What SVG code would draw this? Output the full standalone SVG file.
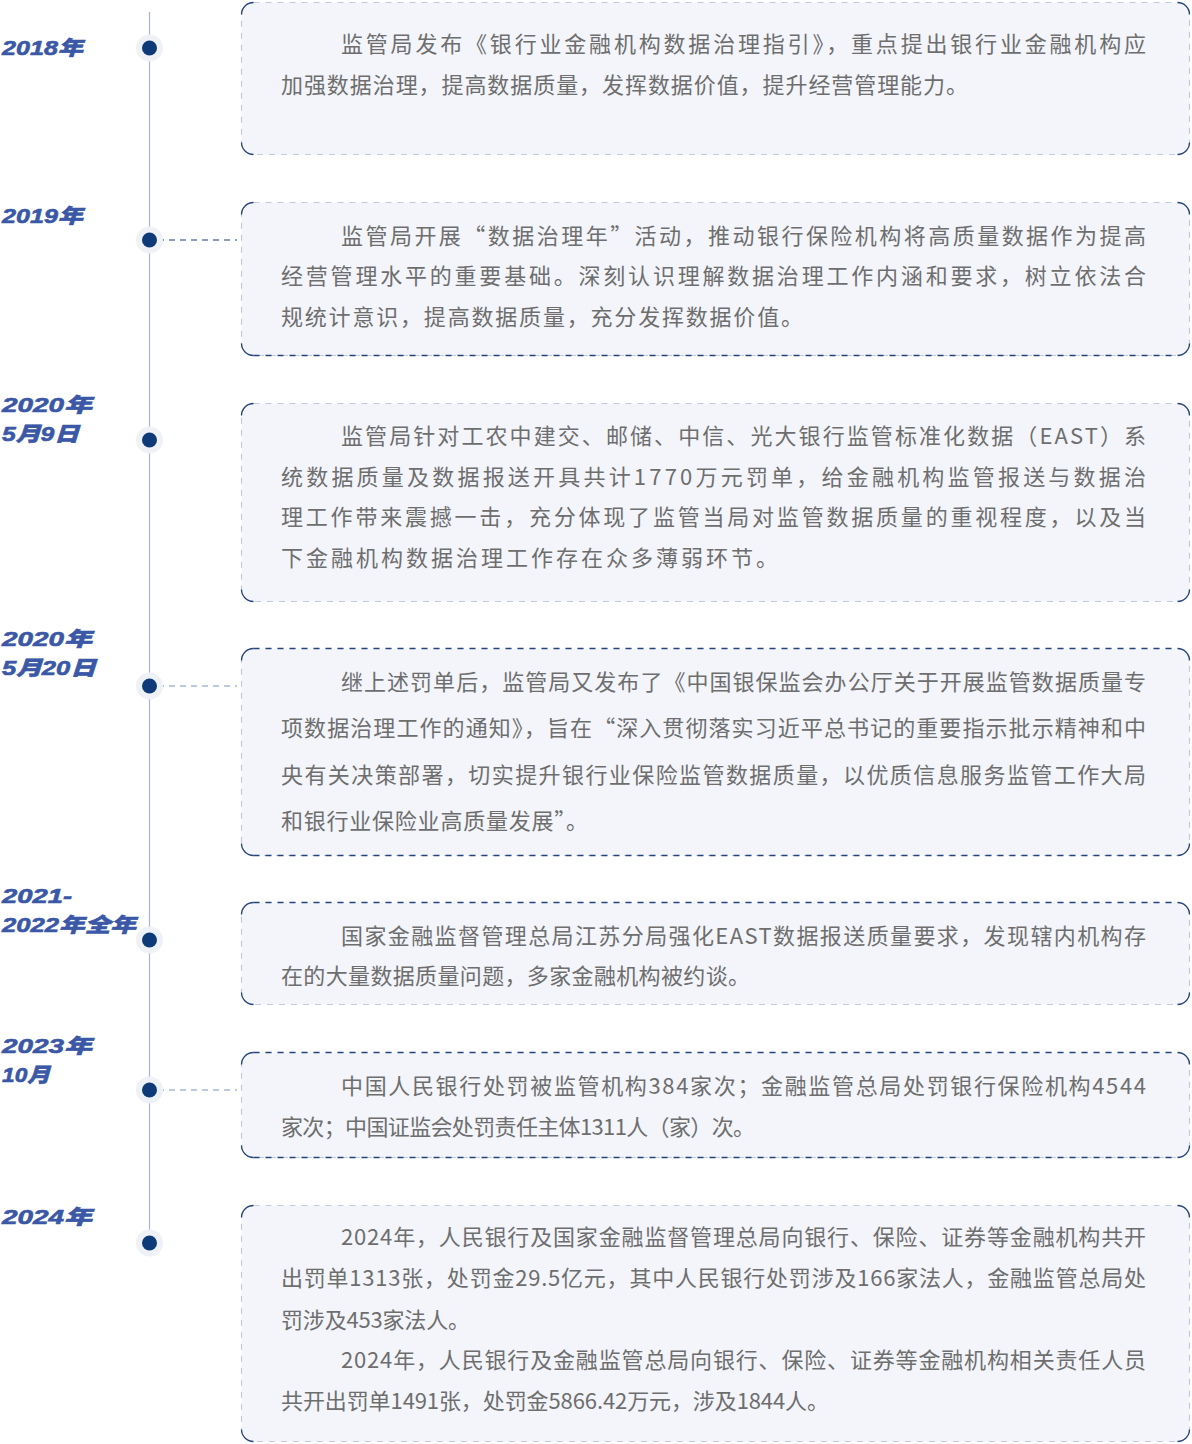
<svg xmlns="http://www.w3.org/2000/svg" width="1192" height="1444" viewBox="0 0 1192 1444">
<style>
.card{fill:#f3f5fb;stroke:#c2c9da;stroke-width:1.2;stroke-dasharray:6 6}
.dk{stroke:#25457a;stroke-width:1.3;stroke-dasharray:6 6;fill:none}
.cn{stroke:#25457a;stroke-width:1.3;fill:none}
.t{font-family:"Noto Sans CJK SC","Noto Sans",sans-serif;font-size:22px;fill:#6e6e6e}
.d{font-family:"Liberation Sans","Noto Sans CJK SC",sans-serif;font-size:20px;font-weight:900;font-style:italic;fill:#3a58a6;stroke:#3a58a6;stroke-width:0.6}
.halo{fill:#eef1f6}
.dot{fill:#0f3a78}
</style>
<rect width="1192" height="1444" fill="#ffffff"/>
<g id="connectors">
<line x1="149.5" y1="12" x2="149.5" y2="1243" stroke="#a7b3cc" stroke-width="1.2"/>
<line x1="158" y1="240" x2="237" y2="240" stroke="#1e3f75" stroke-width="1.2" stroke-dasharray="6 5"/>
<line x1="158" y1="686" x2="237" y2="686" stroke="#7b96bb" stroke-width="1.2" stroke-dasharray="6 5"/>
<line x1="158" y1="1090" x2="237" y2="1090" stroke="#7b96bb" stroke-width="1.2" stroke-dasharray="6 5"/>
</g>
<g id="dots">
<circle class="halo" cx="149.5" cy="48" r="13.5"/><circle class="dot" cx="149.5" cy="48" r="7.5"/>
<circle class="halo" cx="149.5" cy="240" r="13.5"/><circle class="dot" cx="149.5" cy="240" r="7.5"/>
<circle class="halo" cx="149.5" cy="440" r="13.5"/><circle class="dot" cx="149.5" cy="440" r="7.5"/>
<circle class="halo" cx="149.5" cy="686" r="13.5"/><circle class="dot" cx="149.5" cy="686" r="7.5"/>
<circle class="halo" cx="149.5" cy="940" r="13.5"/><circle class="dot" cx="149.5" cy="940" r="7.5"/>
<circle class="halo" cx="149.5" cy="1090" r="13.5"/><circle class="dot" cx="149.5" cy="1090" r="7.5"/>
<circle class="halo" cx="149.5" cy="1243" r="13.5"/><circle class="dot" cx="149.5" cy="1243" r="7.5"/>
</g>
<g id="dates">
<text class="d" x="2" y="55" textLength="81" lengthAdjust="spacingAndGlyphs">2018年</text>
<text class="d" x="2" y="223" textLength="81" lengthAdjust="spacingAndGlyphs">2019年</text>
<text class="d" x="2" y="412" textLength="90" lengthAdjust="spacingAndGlyphs">2020年</text>
<text class="d" x="2" y="441" textLength="77" lengthAdjust="spacingAndGlyphs">5月9日</text>
<text class="d" x="2" y="646" textLength="90" lengthAdjust="spacingAndGlyphs">2020年</text>
<text class="d" x="2" y="675" textLength="94" lengthAdjust="spacingAndGlyphs">5月20日</text>
<text class="d" x="2" y="903" textLength="70" lengthAdjust="spacingAndGlyphs">2021-</text>
<text class="d" x="2" y="932" textLength="134" lengthAdjust="spacingAndGlyphs">2022年全年</text>
<text class="d" x="2" y="1053" textLength="90" lengthAdjust="spacingAndGlyphs">2023年</text>
<text class="d" x="2" y="1082" textLength="48" lengthAdjust="spacingAndGlyphs">10月</text>
<text class="d" x="2" y="1224" textLength="90" lengthAdjust="spacingAndGlyphs">2024年</text>
</g>
<g id="card1">
<rect class="card" x="241.5" y="2.5" width="948" height="152" rx="12"/>
<path class="cn" d="M241.5 14.5 A12 12 0 0 1 253.5 2.5 M1177.5 2.5 A12 12 0 0 1 1189.5 14.5 M1189.5 142.5 A12 12 0 0 1 1177.5 154.5 M253.5 154.5 A12 12 0 0 1 241.5 142.5"/>
<text class="t" x="341" y="52" textLength="805" lengthAdjust="spacing">监管局发布《银行业金融机构数据治理指引》，重点提出银行业金融机构应</text>
<text class="t" x="281" y="93" textLength="687" lengthAdjust="spacing">加强数据治理，提高数据质量，发挥数据价值，提升经营管理能力。</text>
</g>
<g id="card2">
<rect class="card" x="241.5" y="202.5" width="948" height="153" rx="12"/>
<line class="dk" x1="253.5" y1="355.5" x2="1177.5" y2="355.5"/>
<path class="cn" d="M241.5 214.5 A12 12 0 0 1 253.5 202.5 M1177.5 202.5 A12 12 0 0 1 1189.5 214.5 M1189.5 343.5 A12 12 0 0 1 1177.5 355.5 M253.5 355.5 A12 12 0 0 1 241.5 343.5"/>
<text class="t" x="341" y="244" textLength="805" lengthAdjust="spacing">监管局开展“数据治理年”活动，推动银行保险机构将高质量数据作为提高</text>
<text class="t" x="281" y="284" textLength="865" lengthAdjust="spacing">经营管理水平的重要基础。深刻认识理解数据治理工作内涵和要求，树立依法合</text>
<text class="t" x="281" y="325" textLength="522" lengthAdjust="spacing">规统计意识，提高数据质量，充分发挥数据价值。</text>
</g>
<g id="card3">
<rect class="card" x="241.5" y="403.5" width="948" height="198" rx="12"/>
<path class="cn" d="M241.5 415.5 A12 12 0 0 1 253.5 403.5 M1177.5 403.5 A12 12 0 0 1 1189.5 415.5 M1189.5 589.5 A12 12 0 0 1 1177.5 601.5 M253.5 601.5 A12 12 0 0 1 241.5 589.5"/>
<text class="t" x="341" y="444" textLength="805" lengthAdjust="spacing">监管局针对工农中建交、邮储、中信、光大银行监管标准化数据（EAST）系</text>
<text class="t" x="281" y="485" textLength="865" lengthAdjust="spacing">统数据质量及数据报送开具共计1770万元罚单，给金融机构监管报送与数据治</text>
<text class="t" x="281" y="525" textLength="865" lengthAdjust="spacing">理工作带来震撼一击，充分体现了监管当局对监管数据质量的重视程度，以及当</text>
<text class="t" x="281" y="566" textLength="497" lengthAdjust="spacing">下金融机构数据治理工作存在众多薄弱环节。</text>
</g>
<g id="card4">
<rect class="card" x="241.5" y="648.5" width="948" height="207" rx="12"/>
<line class="dk" x1="253.5" y1="648.5" x2="1177.5" y2="648.5"/>
<line class="dk" x1="253.5" y1="855.5" x2="1177.5" y2="855.5"/>
<path class="cn" d="M241.5 660.5 A12 12 0 0 1 253.5 648.5 M1177.5 648.5 A12 12 0 0 1 1189.5 660.5 M1189.5 843.5 A12 12 0 0 1 1177.5 855.5 M253.5 855.5 A12 12 0 0 1 241.5 843.5"/>
<text class="t" x="341" y="690" textLength="805" lengthAdjust="spacing">继上述罚单后，监管局又发布了《中国银保监会办公厅关于开展监管数据质量专</text>
<text class="t" x="281" y="736" textLength="865" lengthAdjust="spacing">项数据治理工作的通知》，旨在“深入贯彻落实习近平总书记的重要指示批示精神和中</text>
<text class="t" x="281" y="783" textLength="865" lengthAdjust="spacing">央有关决策部署，切实提升银行业保险监管数据质量，以优质信息服务监管工作大局</text>
<text class="t" x="281" y="829" textLength="307" lengthAdjust="spacing">和银行业保险业高质量发展”。</text>
</g>
<g id="card5">
<rect class="card" x="241.5" y="902.5" width="948" height="102" rx="12"/>
<line class="dk" x1="253.5" y1="902.5" x2="1177.5" y2="902.5"/>
<path class="cn" d="M241.5 914.5 A12 12 0 0 1 253.5 902.5 M1177.5 902.5 A12 12 0 0 1 1189.5 914.5 M1189.5 992.5 A12 12 0 0 1 1177.5 1004.5 M253.5 1004.5 A12 12 0 0 1 241.5 992.5"/>
<text class="t" x="341" y="944" textLength="805" lengthAdjust="spacing">国家金融监督管理总局江苏分局强化EAST数据报送质量要求，发现辖内机构存</text>
<text class="t" x="281" y="984" textLength="469" lengthAdjust="spacing">在的大量数据质量问题，多家金融机构被约谈。</text>
</g>
<g id="card6">
<rect class="card" x="241.5" y="1052.5" width="948" height="105" rx="12"/>
<line class="dk" x1="253.5" y1="1052.5" x2="1177.5" y2="1052.5"/>
<line class="dk" x1="253.5" y1="1157.5" x2="1177.5" y2="1157.5"/>
<path class="cn" d="M241.5 1064.5 A12 12 0 0 1 253.5 1052.5 M1177.5 1052.5 A12 12 0 0 1 1189.5 1064.5 M1189.5 1145.5 A12 12 0 0 1 1177.5 1157.5 M253.5 1157.5 A12 12 0 0 1 241.5 1145.5"/>
<text class="t" x="341" y="1094" textLength="805" lengthAdjust="spacing">中国人民银行处罚被监管机构384家次；金融监管总局处罚银行保险机构4544</text>
<text class="t" x="281" y="1135" textLength="474" lengthAdjust="spacing">家次；中国证监会处罚责任主体1311人（家）次。</text>
</g>
<g id="card7">
<rect class="card" x="241.5" y="1205.5" width="948" height="236" rx="12"/>
<path class="cn" d="M241.5 1217.5 A12 12 0 0 1 253.5 1205.5 M1177.5 1205.5 A12 12 0 0 1 1189.5 1217.5 M1189.5 1429.5 A12 12 0 0 1 1177.5 1441.5 M253.5 1441.5 A12 12 0 0 1 241.5 1429.5"/>
<text class="t" x="341" y="1245" textLength="805" lengthAdjust="spacing">2024年，人民银行及国家金融监督管理总局向银行、保险、证券等金融机构共开</text>
<text class="t" x="281" y="1286" textLength="865" lengthAdjust="spacing">出罚单1313张，处罚金29.5亿元，其中人民银行处罚涉及166家法人，金融监管总局处</text>
<text class="t" x="281" y="1328" textLength="189" lengthAdjust="spacing">罚涉及453家法人。</text>
<text class="t" x="341" y="1368" textLength="805" lengthAdjust="spacing">2024年，人民银行及金融监管总局向银行、保险、证券等金融机构相关责任人员</text>
<text class="t" x="281" y="1409" textLength="548" lengthAdjust="spacing">共开出罚单1491张，处罚金5866.42万元，涉及1844人。</text>
</g>
</svg>
